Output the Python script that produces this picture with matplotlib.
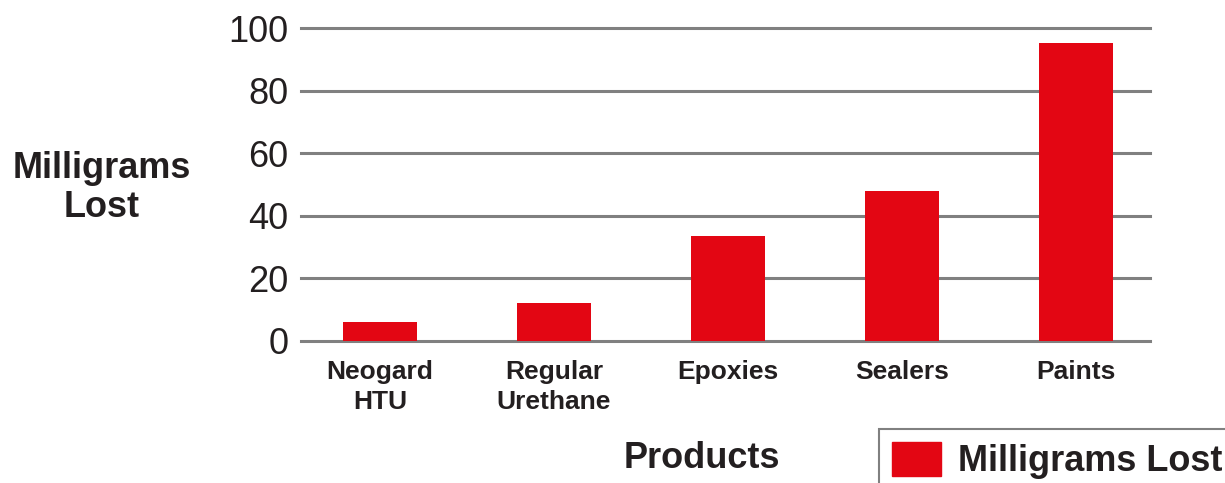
import matplotlib
matplotlib.use("Agg")
import matplotlib.pyplot as plt
from matplotlib.patches import Patch

categories = ["Neogard\nHTU", "Regular\nUrethane", "Epoxies", "Sealers", "Paints"]
values = [6, 12, 33.5, 48, 95.3]
yticks = [0, 20, 40, 60, 80, 100]
series_name = "Milligrams Lost"

RED = "#E30613"
GRID = "#808080"
TXT = "#231F20"
FONT = "Liberation Sans"

fig = plt.figure(figsize=(12.25, 4.83), dpi=100)
ax = fig.add_axes([301/1225, 1-341/483, (1150-301)/1225, (341-28)/483])

x = list(range(len(categories)))
ax.bar(x, values, width=0.425, color=RED, zorder=3)
ax.set_xlim(-0.454, 4.425)
ax.set_ylim(0, 100)
ax.set_yticks(yticks)
ax.set_yticklabels([str(v) for v in yticks], fontsize=26, family=FONT, color=TXT)
ax.set_xticks(x)
ax.set_xticklabels(categories, fontsize=19, family=FONT, fontweight="bold",
                   color=TXT, linespacing=1.3)
ax.tick_params(axis="y", length=0, pad=9)
ax.tick_params(axis="x", length=0, pad=14)
for s in ax.spines.values():
    s.set_visible(False)
ax.grid(axis="y", color=GRID, linewidth=2.2, zorder=0)
ax.set_axisbelow(True)
for gl in ax.get_ygridlines():
    gl.set_clip_on(False)

fig.text(102/1225, 1-188/483, "Milligrams\nLost", ha="center", va="center",
         fontsize=26, family=FONT, fontweight="bold", color=TXT, linespacing=1.15)
fig.text(702/1225, 1-459/483, "Products", ha="center", va="center",
         fontsize=26, family=FONT, fontweight="bold", color=TXT)

leg = fig.legend(handles=[Patch(color=RED, label=series_name)],
                 loc="upper left", bbox_to_anchor=(879/1225, 1-429/483),
                 borderaxespad=0, prop={"family": FONT, "weight": "bold", "size": 26},
                 handlelength=1.36, handleheight=1.1, handletextpad=0.47,
                 borderpad=0.35, fancybox=False, framealpha=1)
leg.get_frame().set_edgecolor(GRID)
leg.get_frame().set_linewidth(1.5)
for t in leg.get_texts():
    t.set_color(TXT)

fig.savefig("out.png", dpi=100)
